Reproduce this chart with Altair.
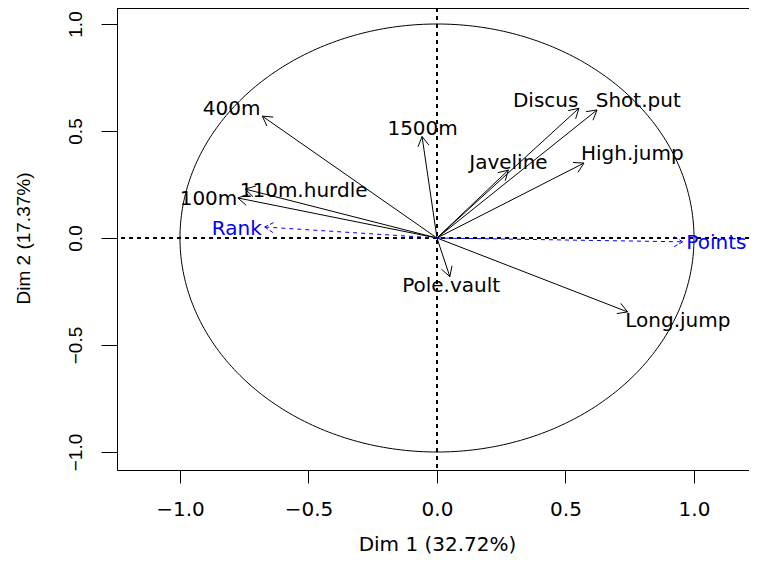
import altair as alt
import pandas as pd
import numpy as np

# Active variables: coordinates on Dim 1 / Dim 2
variables = ["100m", "Long.jump", "Shot.put", "High.jump", "400m",
             "110m.hurdle", "Discus", "Pole.vault", "Javeline", "1500m"]
dim1 = [-0.7747, 0.7418, 0.6226, 0.5719, -0.6796, -0.7462, 0.5524, 0.0500, 0.2777, -0.0581]
dim2 = [0.1871, -0.3454, 0.5983, 0.3502, 0.5694, 0.2287, 0.6063, -0.1803, 0.3172, 0.4742]
label_x = [-0.889, 0.937, 0.783, 0.760, -0.799, -0.519, 0.423, 0.055, 0.278, -0.056]
label_y = [0.185, -0.383, 0.645, 0.397, 0.607, 0.226, 0.645, -0.220, 0.357, 0.514]

# Supplementary variables
supp_vars = ["Rank", "Points"]
supp_dim1 = [-0.6706, 0.9562]
supp_dim2 = [0.0513, -0.0178]
supp_label_x = [-0.779, 1.087]
supp_label_y = [0.045, -0.021]

x_title = "Dim 1 (32.72%)"
y_title = "Dim 2 (17.37%)"
tick_values = [-1.0, -0.5, 0.0, 0.5, 1.0]

W, H = 632, 462
XDOM = [-1.245, 1.214]
YDOM = [-1.0841, 1.0748]
KX = W / (XDOM[1] - XDOM[0])
KY = H / (YDOM[1] - YDOM[0])
HEAD_LEN = 11.0
HEAD_ANG = np.deg2rad(30)


def heads(xs, ys):
    rows = []
    for x, y in zip(xs, ys):
        px, py = x * KX, -y * KY
        n = np.hypot(px, py)
        ux, uy = px / n, py / n
        for s in (1, -1):
            a = s * HEAD_ANG
            rx = ux * np.cos(a) - uy * np.sin(a)
            ry = ux * np.sin(a) + uy * np.cos(a)
            wx = px - HEAD_LEN * rx
            wy = py - HEAD_LEN * ry
            rows.append({"x": x, "y": y, "x2": wx / KX, "y2": -wy / KY})
    return pd.DataFrame(rows)


act = pd.DataFrame({"var": variables, "x": dim1, "y": dim2,
                    "lx": label_x, "ly": label_y, "ox": 0.0, "oy": 0.0})
sup = pd.DataFrame({"var": supp_vars, "x": supp_dim1, "y": supp_dim2,
                    "lx": supp_label_x, "ly": supp_label_y, "ox": 0.0, "oy": 0.0})
act_heads = heads(dim1, dim2)
sup_heads = heads(supp_dim1, supp_dim2)

t = np.linspace(0, 2 * np.pi, 361)
circle = pd.DataFrame({"i": np.arange(len(t)), "x": np.cos(t), "y": np.sin(t)})

xscale = alt.Scale(domain=XDOM, nice=False, zero=False)
yscale = alt.Scale(domain=YDOM, nice=False, zero=False)

lab_expr = "replace(format(datum.value, '.1f'), '-', '\u2212')"

x_axis = alt.Axis(values=tick_values, labelExpr=lab_expr, grid=False,
                  domain=True, domainColor="black", domainWidth=1,
                  tickSize=13, tickColor="black", tickWidth=1,
                  labelFont="DejaVu Sans", labelFontSize=20, labelColor="black",
                  labelPadding=16, labelBaseline="top", labelFlush=False,
                  labelOverlap=False,
                  title=x_title, titleFont="DejaVu Sans", titleFontSize=20,
                  titleFontWeight="normal", titleColor="black",
                  titleX=320, titleY=80, titleAlign="center",
                  titleBaseline="alphabetic")
y_axis = alt.Axis(values=tick_values, labelExpr=lab_expr, grid=False,
                  domain=True, domainColor="black", domainWidth=1,
                  tickSize=16, tickColor="black", tickWidth=1,
                  labelFont="Liberation Sans", labelFontSize=19, labelColor="black",
                  labelPadding=16, labelAngle=270, labelAlign="center",
                  labelBaseline="bottom", labelFlush=False, labelOverlap=False,
                  title=y_title, titleFont="Liberation Sans", titleFontSize=19,
                  titleFontWeight="normal", titleColor="black",
                  titleAngle=270, titleX=-94, titleY=230, titleAlign="center",
                  titleBaseline="middle")


def X(f):
    return alt.X(f, type="quantitative", scale=xscale, axis=x_axis)


def Y(f):
    return alt.Y(f, type="quantitative", scale=yscale, axis=y_axis)


circ = alt.Chart(circle).mark_line(color="black", strokeWidth=1, clip=True).encode(
    x=X("x"), y=Y("y"), order="i:Q")

top_rule = alt.Chart(circle).mark_rule(color="black", strokeWidth=1).encode(
    x=alt.value(0), x2=alt.value(W), y=alt.value(0.5))

hline = alt.Chart(circle).mark_rule(color="black", strokeWidth=1, strokeDash=[4, 4]).encode(
    y=alt.YDatum(0, type="quantitative", scale=yscale, axis=y_axis))
vline = alt.Chart(circle).mark_rule(color="black", strokeWidth=1, strokeDash=[4, 4]).encode(
    x=alt.XDatum(0, type="quantitative", scale=xscale, axis=x_axis))

act_lines = alt.Chart(act).mark_rule(color="black", strokeWidth=1).encode(
    x=X("ox"), y=Y("oy"), x2="x", y2="y")
act_head = alt.Chart(act_heads).mark_rule(color="black", strokeWidth=1).encode(
    x=X("x"), y=Y("y"), x2="x2", y2="y2")
act_text = alt.Chart(act).mark_text(font="DejaVu Sans", fontSize=20, color="black",
                                    align="center", baseline="middle", dy=1).encode(
    x=X("lx"), y=Y("ly"), text="var")

sup_lines = alt.Chart(sup).mark_rule(color="#0000FF", strokeWidth=1, strokeDash=[4, 4]).encode(
    x=X("ox"), y=Y("oy"), x2="x", y2="y")
sup_head = alt.Chart(sup_heads).mark_rule(color="#0000FF", strokeWidth=1, strokeDash=[4, 2]).encode(
    x=X("x"), y=Y("y"), x2="x2", y2="y2")
sup_text = alt.Chart(sup).mark_text(font="DejaVu Sans", fontSize=20, color="#0000FF",
                                    align="center", baseline="middle", dy=1).encode(
    x=X("lx"), y=Y("ly"), text="var")

chart = alt.layer(
    circ, top_rule, hline, vline, act_lines, act_head, sup_lines, sup_head, act_text, sup_text
).properties(
    width=W, height=H,
    autosize=alt.AutoSizeParams(type="none"),
    padding={"left": 109, "top": 0, "right": 0, "bottom": 86},
).configure_view(stroke=None).configure(background="white")

chart.save("out.html", embed_options={"renderer": "svg", "actions": False})
